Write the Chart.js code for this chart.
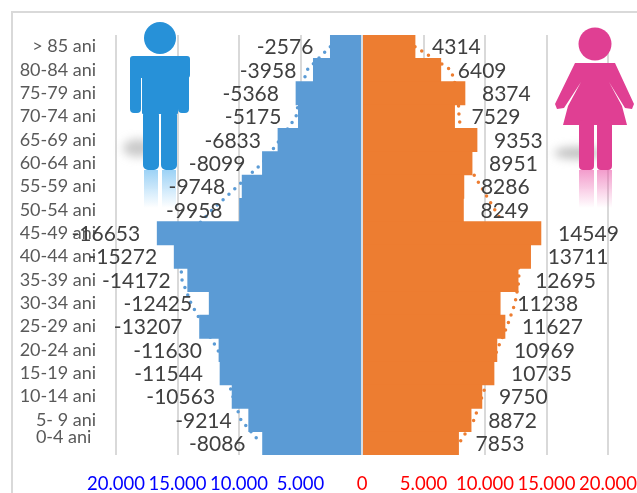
<!DOCTYPE html>
<html>
<head>
<meta charset="utf-8">
<style>
    html, body { margin: 0; padding: 0; background: #fff; overflow: hidden; }
    #frame { position: absolute; left: 11px; top: 11px; width: 640px; height: 500px; border: 1px solid #d9d9d9; border-width: 2px 0 0 2px; }
    #wrap { position: absolute; left: 0; top: 0; width: 637px; height: 493px; }
</style>
<script src="https://cdn.jsdelivr.net/npm/chart.js@4/dist/chart.umd.min.js"></script>
</head>
<body>
<div id="frame"></div>
<div id="wrap"><canvas id="pyramid" width="637" height="493"></canvas></div>
<script>
// grupe de varsta, de sus in jos
const ageGroups = ['> 85 ani', '80-84 ani', '75-79 ani', '70-74 ani', '65-69 ani', '60-64 ani', '55-59 ani', '50-54 ani', '45-49 ani', '40-44 ani', '35-39 ani', '30-34 ani', '25-29 ani', '20-24 ani', '15-19 ani', '10-14 ani', '5- 9 ani', ['0-4 ani ', '']];
const males = [-2576, -3958, -5368, -5175, -6833, -8099, -9748, -9958, -16653, -15272, -14172, -12425, -13207, -11630, -11544, -10563, -9214, -8086];
const females = [4314, 6409, 8374, 7529, 9353, 8951, 8286, 8249, 14549, 13711, 12695, 11238, 11627, 10969, 10735, 9750, 8872, 7853];
// liniile punctate
const malesTrend = [-2576, -4470, -5040, -5365, -6670, -8130, -10160, -12195, -13980, -14800, -14630, -13900, -12850, -11710, -11060, -10490, -9840, -8210];
const femalesTrend = [4310, 7236, 7800, 7890, 8130, 8540, 9675, 10810, 11950, 12680, 12765, 12440, 11790, 10975, 10400, 9755, 9100, 7890];
const axisTicks = [-20000, -15000, -10000, -5000, 0, 5000, 10000, 15000, 20000];

const FONT = 'Lato, Carlito, sans-serif';

function drawMan(ctx) {
    ctx.save();
    // umbra
    ctx.filter = 'blur(5px)';
    ctx.fillStyle = 'rgba(150,150,150,0.5)';
    ctx.beginPath();
    ctx.ellipse(138, 148, 15, 9, 0, 0, Math.PI * 2);
    ctx.fill();
    ctx.filter = 'none';
    // reflexia picioarelor
    const refl = ctx.createLinearGradient(0, 170, 0, 208);
    refl.addColorStop(0, 'rgba(90,180,240,0.6)');
    refl.addColorStop(1, 'rgba(90,180,240,0)');
    ctx.fillStyle = refl;
    ctx.fillRect(144, 170, 14, 38);
    ctx.fillRect(162, 170, 14, 38);
    // corpul
    ctx.fillStyle = '#2791d8';
    ctx.beginPath();
    ctx.arc(160, 38, 16, 0, Math.PI * 2);
    ctx.fill();
    ctx.beginPath();
    ctx.roundRect(130, 56, 60, 22, 3);
    ctx.roundRect(130, 60, 11, 53, 4);
    ctx.roundRect(178, 60, 11, 53, 4);
    ctx.roundRect(142, 60, 36, 54, 1);
    ctx.roundRect(143, 110, 16, 60, 5);
    ctx.roundRect(161, 110, 16, 60, 5);
    ctx.fill();
    ctx.restore();
}

function drawWoman(ctx) {
    ctx.save();
    ctx.filter = 'blur(5px)';
    ctx.fillStyle = 'rgba(150,150,150,0.6)';
    ctx.beginPath();
    ctx.ellipse(578, 153, 24, 6, 0, 0, Math.PI * 2);
    ctx.fill();
    ctx.filter = 'none';
    const refl = ctx.createLinearGradient(0, 170, 0, 208);
    refl.addColorStop(0, 'rgba(235,90,170,0.6)');
    refl.addColorStop(1, 'rgba(235,90,170,0)');
    ctx.fillStyle = refl;
    ctx.fillRect(579, 170, 15, 38);
    ctx.fillRect(597, 170, 15, 38);
    ctx.fillStyle = '#e03f93';
    ctx.beginPath();
    ctx.arc(595, 44, 16.5, 0, Math.PI * 2);
    ctx.fill();
    // brate si rochie
    ctx.beginPath();
    ctx.moveTo(575, 63);
    ctx.lineTo(615, 63);
    ctx.lineTo(634, 104);
    ctx.lineTo(632, 109);
    ctx.lineTo(625, 108);
    ctx.lineTo(609, 82);
    ctx.lineTo(622, 106);
    ctx.lineTo(627, 125);
    ctx.lineTo(563, 125);
    ctx.lineTo(568, 106);
    ctx.lineTo(581, 82);
    ctx.lineTo(564, 108);
    ctx.lineTo(557, 109);
    ctx.lineTo(555, 104);
    ctx.closePath();
    ctx.fill();
    ctx.beginPath();
    ctx.roundRect(579, 120, 15, 50, 4);
    ctx.roundRect(597, 120, 15, 50, 4);
    ctx.fill();
    ctx.restore();
}

// figuri, linia de zero si etichetele de valoare
const pyramidExtras = {
    id: 'pyramidExtras',
    afterDatasetsDraw(chart) {
        const { ctx, chartArea, scales } = chart;
        drawMan(ctx);
        drawWoman(ctx);
        const zero = scales.x.getPixelForValue(0);
        ctx.save();
        ctx.strokeStyle = '#d4dde6';
        ctx.lineWidth = 2;
        ctx.beginPath();
        ctx.moveTo(zero, chartArea.top);
        ctx.lineTo(zero, chartArea.bottom);
        ctx.stroke();
        ctx.font = '21px ' + FONT;
        ctx.fillStyle = '#404040';
        ctx.textBaseline = 'middle';
        ageGroups.forEach((g, i) => {
            const y = scales.y.getPixelForValue(i) + 1;
            ctx.textAlign = 'right';
            ctx.fillText(String(males[i]), scales.x.getPixelForValue(males[i]) - 17, y);
            ctx.textAlign = 'left';
            ctx.fillText(String(females[i]), scales.x.getPixelForValue(females[i]) + 17, y);
        });
        ctx.restore();
    }
};

new Chart(document.getElementById('pyramid').getContext('2d'), {
    type: 'bar',
    plugins: [pyramidExtras],
    data: {
        labels: ageGroups,
        datasets: [
            { label: 'Barbati', data: males, backgroundColor: '#5b9bd5', stack: 'pop', order: 1, barPercentage: 1, categoryPercentage: 1 },
            { label: 'Femei', data: females, backgroundColor: '#ed7d31', stack: 'pop', order: 1, barPercentage: 1, categoryPercentage: 1 },
            { type: 'line', label: 'Trend barbati', data: malesTrend, indexAxis: 'y', stack: 'tm', order: 2, borderColor: '#5b9bd5', borderWidth: 3.5, borderDash: [0, 8], borderCapStyle: 'round', pointRadius: 0, fill: false },
            { type: 'line', label: 'Trend femei', data: femalesTrend, indexAxis: 'y', stack: 'tf', order: 2, borderColor: '#ed7d31', borderWidth: 3.5, borderDash: [0, 8], borderCapStyle: 'round', pointRadius: 0, fill: false }
        ]
    },
    options: {
        indexAxis: 'y',
        responsive: false,
        animation: false,
        layout: { padding: { top: 35, right: 29, bottom: 0, left: 0 } },
        plugins: { legend: { display: false }, tooltip: { enabled: false } },
        scales: {
            x: {
                stacked: true,
                min: -20000,
                max: 20000,
                afterBuildTicks: scale => { scale.ticks = axisTicks.map(v => ({ value: v })); },
                afterFit: scale => { scale.height = 38; scale.paddingLeft = 0; scale.paddingRight = 0; },
                grid: { color: '#d9d9d9', lineWidth: 2, drawTicks: false },
                border: { display: false },
                ticks: {
                    autoSkip: false,
                    maxRotation: 0,
                    padding: 18,
                    font: { family: FONT, size: 18.5 },
                    color: ctx => ctx.tick.value < 0 ? '#0000ff' : '#ff0000',
                    callback: v => Math.abs(v).toLocaleString('de-DE')
                }
            },
            y: {
                stacked: true,
                afterFit: scale => { scale.width = 116; scale.paddingTop = 0; scale.paddingBottom = 0; },
                grid: { display: false, drawTicks: false },
                border: { display: false },
                ticks: {
                    autoSkip: false,
                    crossAlign: 'near',
                    padding: 20,
                    color: '#595959',
                    font: ctx => ({ family: FONT, size: 18, lineHeight: ctx.index === 17 ? 0.72 : 1.2 })
                }
            }
        }
    }
});
</script>
</body>
</html>
